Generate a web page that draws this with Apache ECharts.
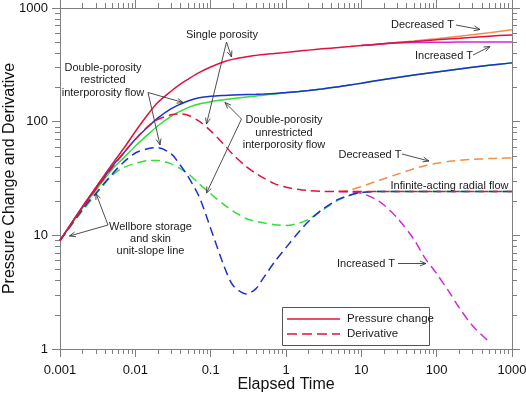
<!DOCTYPE html>
<html><head><meta charset="utf-8">
<script src="https://cdn.jsdelivr.net/npm/echarts@6/dist/echarts.min.js"></script>
<style>html,body{margin:0;padding:0;background:#fff}#c{width:526px;height:394px}</style>
</head><body><div id="c"></div>
<script>
// ---------------- data ----------------
const timeBase = [0.001,0.002,0.003,0.005,0.007,0.01,0.015,0.02,0.03,0.04,0.05,0.07,0.1,0.15,0.2,0.3,0.4,0.5,0.7,1,1.5,2,3,5,7,10,20,50,100,200,500,1000];
const singlePressure   = [9,18,26.5,43,58,82,118,148,186,215,236,270,303,337,355,373,383,390,398,407,418,426,437,450,458,467,485,507,525,542,565,580];
const singleDerivative = [9,17.5,25.5,40,53,70,92,105,115,117,114,101,83,63,51,40,35,32,28.5,26.5,25.3,24.8,24.4,24.3,24.3,24.3,24.3,24.3,24.3,24.3,24.3,24.3];
const restrictedPressure   = [9,18,26,41,53,70,91,108,130,143,152,162,167,170,171.5,173,174,175,177,180.5,184.5,188,194,203,210,218,235,257,274,291,313,329];
const restrictedDerivative = [9,17,23.5,35,44,53,58,59,52,41,33,22,11.5,5.4,3.6,3.05,3.4,4.2,5.8,7.8,10.8,13.3,16.8,20.8,22.5,23.8,24.3,24.3,24.3,24.3,24.3,24.3];
const unrestrictedPressure   = [9,17.5,25,38.5,48,61,78,92,112,124,133,143,150,156,160,165,168,171,175,180,184.5,188,194,203,210,218,235,257,274,291,313,329];
const unrestrictedDerivative = [9,16.5,23,34,39.5,43,45.5,45.5,42.5,38.5,35,28.5,23.2,18.6,16.3,14,13.3,12.9,12.4,12.2,12.8,13.9,16.5,20.5,22.5,23.8,24.3,24.3,24.3,24.3,24.3,24.3];

const timeLatePressure = [10,20,50,100,200,500,1000];
const decreasedTPressure = [467,486,513,537,565,605,643];
const increasedTPressure = [467,485,496,500,501,502,502];

const timeLateDerivative = [5,7,10,15,20,30,50,70,100,150,200,300,500,700,1000];
const decreasedTDerivative = [24.3,25,26.8,29.5,31.5,34.5,38.5,41,43,44.8,45.7,46.6,47.3,47.7,48];
const timeIncreasedT = [5,7,10,15,20,30,50,70,100,150,200,300,500];
const increasedTDerivative = [24.3,24.1,23.5,21,18.5,14.2,9.2,6.3,4.6,3.1,2.3,1.6,1.15];

const xMajorTicks = [0.001,0.01,0.1,1,10,100,1000];
const yMajorTicks = [1,10,100,1000];

// ---------------- styling ----------------
const FONT = "'Liberation Sans', Arial, Helvetica, sans-serif";
const AX = '#7f7f7f';
const RED = '#e01240', BLUE = '#1f2fd0', GREEN = '#36dd36', ORANGE = '#f0904a', MAGENTA = '#d02ad8';

function minorValues(lo, hi) {
  const out = [];
  for (let d = lo; d < hi; d *= 10) for (let k = 2; k <= 9; k++) out.push(+(d * k).toPrecision(6));
  return out;
}
const xMinor = minorValues(0.001, 1000);
const yMinor = minorValues(1, 1000);

function zip(t, v) { return t.map((x, i) => [x, v[i]]); }
function series(name, t, v, color, dashed, z) {
  return {
    name, type: 'line', data: zip(t, v), xAxisIndex: 0, yAxisIndex: 0,
    showSymbol: false, symbol: 'none', smooth: 0.3, z, silent: true,
    lineStyle: { color, width: 1.5, type: dashed ? [9, 5] : 'solid' }
  };
}
const fmt = v => String(Number((+v).toPrecision(6)));

function axis(kind, position, min, max, major, isMinor, showLabel) {
  return {
    type: 'log', logBase: 10, min, max, position,
    axisLine: { show: true, lineStyle: { color: AX, width: 1 } },
    splitLine: { show: false },
    axisTick: { show: true, inside: false, length: isMinor ? 5 : 8, lineStyle: { color: AX, width: 1 }, customValues: isMinor ? (kind === 'x' ? xMinor : yMinor) : major },
    axisLabel: { show: showLabel, customValues: major, formatter: fmt, fontFamily: FONT, fontSize: 13, color: '#111', margin: kind === 'x' ? 15 : 12 },
  };
}

const xAxes = [
  Object.assign(axis('x', 'bottom', 0.001, 1000, xMajorTicks, false, true), {
    name: 'Elapsed Time', nameLocation: 'middle', nameGap: 28, nameMoveOverlap: false,
    nameTextStyle: { fontFamily: FONT, fontSize: 16, color: '#111' }
  }),
  axis('x', 'bottom', 0.001, 1000, xMajorTicks, true, false),
  axis('x', 'top', 0.001, 1000, xMajorTicks, false, false),
  axis('x', 'top', 0.001, 1000, xMajorTicks, true, false)
];
const yAxes = [
  Object.assign(axis('y', 'left', 1, 1000, yMajorTicks, false, true), {
    name: 'Pressure Change and Derivative', nameLocation: 'middle', nameGap: 42, nameMoveOverlap: false,
    nameTextStyle: { fontFamily: FONT, fontSize: 16, color: '#111' }
  }),
  axis('y', 'left', 1, 1000, yMajorTicks, true, false),
  axis('y', 'right', 1, 1000, yMajorTicks, false, false),
  axis('y', 'right', 1, 1000, yMajorTicks, true, false)
];

// ---------------- annotations ----------------
const TXT = '#1a1a1a', ARR = '#3a3a3a';
function text(str, x, y, opts) {
  return { type: 'text', silent: true, z: 100, style: Object.assign({ text: str, x, y, align: 'center', verticalAlign: 'middle', font: '11px ' + FONT, fill: TXT, lineHeight: 12.5 }, opts || {}) };
}
function arrow(x1, y1, x2, y2) {
  const a = Math.atan2(y2 - y1, x2 - x1), L = 6.5, s = 0.38;
  return [
    { type: 'line', silent: true, z: 100, shape: { x1, y1, x2, y2 }, style: { stroke: ARR, lineWidth: 0.9 } },
    { type: 'polyline', silent: true, z: 100, shape: { points: [[x2 - L * Math.cos(a - s), y2 - L * Math.sin(a - s)], [x2, y2], [x2 - L * Math.cos(a + s), y2 - L * Math.sin(a + s)]] }, style: { stroke: ARR, lineWidth: 0.9, fill: null } }
  ];
}
const graphics = [
  text('Single porosity', 222, 35),
  ...arrow(226.5, 42, 231.5, 57),
  ...arrow(226.5, 42, 206.5, 124),
  text('Double-porosity\nrestricted\ninterporosity flow', 103, 80),
  ...arrow(148, 92.5, 183, 102.5),
  ...arrow(148, 92.5, 160, 145),
  text('Double-porosity\nunrestricted\ninterporosity flow', 284, 132.5),
  ...arrow(241.5, 119, 225, 102.5),
  ...arrow(241.5, 119, 206.5, 193),
  text('Decreased T', 422.5, 25),
  ...arrow(456, 25, 480, 29.5),
  text('Increased T', 444, 56),
  ...arrow(473, 55, 490, 46.5),
  text('Decreased T', 370, 155),
  ...arrow(402, 154, 429, 161),
  text('Infinite-acting radial flow', 449.5, 185.5),
  text('Increased T', 366, 264),
  ...arrow(398, 263.5, 426, 263.5),
  text('Wellbore storage\nand skin\nunit-slope line', 150.5, 239, { lineHeight: 12.2 }),
  ...arrow(108, 225, 96, 193.5),
  ...arrow(108, 225, 69.5, 236),
  // legend box
  { type: 'rect', silent: true, z: 100, shape: { x: 282.5, y: 307.5, width: 147, height: 38 }, style: { fill: '#fff', stroke: '#555', lineWidth: 1 } },
  { type: 'line', silent: true, z: 101, shape: { x1: 287, y1: 319, x2: 340, y2: 319 }, style: { stroke: RED, lineWidth: 1.5 } },
  { type: 'line', silent: true, z: 101, shape: { x1: 287, y1: 334, x2: 340, y2: 334 }, style: { stroke: RED, lineWidth: 1.5, lineDash: [10, 5] } },
  { type: 'text', silent: true, z: 101, style: { text: 'Pressure change', x: 347, y: 319, align: 'left', verticalAlign: 'middle', font: '11.5px ' + FONT, fill: TXT } },
  { type: 'text', silent: true, z: 101, style: { text: 'Derivative', x: 347, y: 334, align: 'left', verticalAlign: 'middle', font: '11.5px ' + FONT, fill: TXT } }
];

const chart = echarts.init(document.getElementById('c'), null, { renderer: 'canvas', width: 526, height: 394 });
chart.setOption({
  animation: false,
  backgroundColor: '#fff',
  grid: { left: 60, right: 14, top: 8, bottom: 45, containLabel: false, outerBoundsMode: 'none' },
  xAxis: xAxes,
  yAxis: yAxes,
  series: [
    series('Decreased T pressure', timeLatePressure, decreasedTPressure, ORANGE, false, 2),
    series('Increased T pressure', timeLatePressure, increasedTPressure, MAGENTA, false, 2),
    series('Decreased T derivative', timeLateDerivative, decreasedTDerivative, ORANGE, true, 2),
    series('Increased T derivative', timeIncreasedT, increasedTDerivative, MAGENTA, true, 2),
    series('Unrestricted pressure', timeBase, unrestrictedPressure, GREEN, false, 3),
    series('Unrestricted derivative', timeBase, unrestrictedDerivative, GREEN, true, 3),
    series('Restricted pressure', timeBase, restrictedPressure, BLUE, false, 4),
    series('Restricted derivative', timeBase, restrictedDerivative, BLUE, true, 4),
    series('Single porosity pressure', timeBase, singlePressure, RED, false, 5),
    series('Single porosity derivative', timeBase, singleDerivative, RED, true, 5)
  ],
  graphic: graphics
});
</script>
</body></html>
